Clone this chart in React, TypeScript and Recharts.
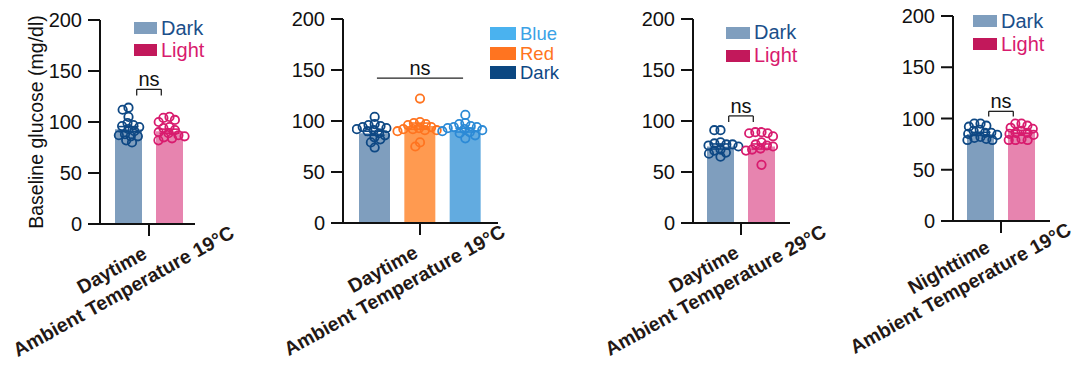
import React from "react";
import {
  ComposedChart,
  Bar,
  Cell,
  Scatter,
  XAxis,
  YAxis,
  ErrorBar,
  ReferenceLine,
  Legend,
} from "recharts";

const H = 367;
const yTicks = [0, 50, 100, 150, 200];

// daytime, 19°C
const aGroups = ["Dark", "Light"];
const aMeans = [93, 91];
const aSem = [2.5, 2];
const aDark = [114, 112, 105, 99, 97, 96, 95, 93, 91, 88, 87, 86, 86, 82, 80];
const aLight = [105, 104, 102, 100, 95, 94, 92, 90, 89, 87, 86, 85, 84, 82];
const aLabel = ["Daytime", "Ambient Temperature 19°C"];

// daytime, 19°C, three light colours
const bGroups = ["Dark", "Red", "Blue"];
const bMeans = [88, 95, 91];
const bSem = [2, 3, 1.8];
const bDark = [104, 97, 96, 95, 94, 93, 92, 91, 90, 88, 86, 84, 82, 79, 74];
const bRed = [122, 99, 98, 97, 96, 94, 93, 92, 92, 91, 91, 90, 79, 75];
const bBlue = [106, 98, 97, 95, 94, 94, 93, 92, 91, 90, 89, 88, 86, 83];
const bLabel = ["Daytime", "Ambient Temperature 19°C"];

// daytime, 29°C
const cGroups = ["Dark", "Light"];
const cMeans = [75, 75];
const cSem = [2.5, 2.5];
const cDark = [91, 91, 79, 78, 77, 77, 76, 75, 72, 71, 69, 68, 65];
const cLight = [89, 89, 88, 88, 85, 79, 77, 76, 75, 73, 72, 71, 57];
const cLabel = ["Daytime", "Ambient Temperature 29°C"];

// nighttime, 19°C
const dGroups = ["Dark", "Light"];
const dMeans = [85, 87];
const dSem = [1.5, 1.5];
const dDark = [95, 95, 93, 92, 89, 88, 86, 86, 85, 84, 82, 81, 80, 79, 79];
const dLight = [95, 95, 93, 91, 90, 88, 86, 86, 85, 84, 80, 79, 79, 79];
const dLabel = ["Nighttime", "Ambient Temperature 19°C"];

const COLORS: Record<string, { bar: string; dot: string }> = {
  Dark: { bar: "#7f9ebe", dot: "#0e4884" },
  Light: { bar: "#e784af", dot: "#d81b6e" },
  Red: { bar: "#ff9a50", dot: "#ff7420" },
  Blue: { bar: "#62abe0", dot: "#2c8ad6" },
};

const twoLegend = [
  { name: "Dark", swatch: "#7f9ebe", text: "#1b4f8a" },
  { name: "Light", swatch: "#c2185b", text: "#d81b6e" },
];
const threeLegend = [
  { name: "Blue", swatch: "#4ab2ef", text: "#3ba2e6" },
  { name: "Red", swatch: "#ff7420", text: "#ff7420" },
  { name: "Dark", swatch: "#0b4781", text: "#0e4884" },
];

const INK = "#111";

// simple beeswarm: horizontal pixel offsets so circles don't pile up
function swarm(values: number[], pxPerUnit: number, d: number): number[] {
  const order = values.map((_, i) => i).sort((a, b) => values[b] - values[a]);
  const placed: { x: number; y: number }[] = [];
  const out = new Array(values.length).fill(0);
  for (const i of order) {
    const y = values[i] * pxPerUnit;
    const cands = [0];
    for (const p of placed) {
      const dy = Math.abs(p.y - y);
      if (dy < d) {
        const w = Math.sqrt(d * d - dy * dy);
        cands.push(p.x - w, p.x + w);
      }
    }
    cands.sort((a, b) => Math.abs(a) - Math.abs(b));
    const x =
      cands.find((c) =>
        placed.every((p) => (p.x - c) ** 2 + (p.y - y) ** 2 >= d * d - 0.01)
      ) ?? 0;
    placed.push({ x, y });
    out[i] = x;
  }
  return out;
}

function TwoLineTick(props: any) {
  const { x, y, lines, shift } = props;
  return (
    <g transform={`translate(${x - 34 + shift},${y + 40}) rotate(-29)`}>
      {lines.map((t: string, i: number) => (
        <text
          key={i}
          x={0}
          y={i * 24}
          textAnchor="middle"
          fontSize={19.5}
          fontWeight="bold"
          fill="#231815"
        >
          {t}
        </text>
      ))}
    </g>
  );
}

type PanelProps = {
  groups: string[];
  means: number[];
  sems: number[];
  dots: number[][];
  label: string[];
  legend: { name: string; swatch: string; text: string }[];
  chartLeft: number;
  chartWidth: number;
  axisLeft: number;
  axisRight: number;
  plotTop: number;
  plotBottom: number;
  padL: number;
  padR: number;
  barSize: number;
  legendX: number;
  legendTop: number;
  legendFont: number;
  rowH: number;
  swatchW: number;
  swatchH: number;
  labelShift: number;
  ns: { from: number; to: number; y: number; leg: number };
  yLabel?: string;
};

const YW = 60;
const XH = 30;

function Panel(p: PanelProps) {
  const n = p.groups.length;
  const rows = p.groups.map((g, i) => ({ name: g, mean: p.means[i] }));
  const pxPerUnit = (p.plotBottom - p.plotTop) / 200;

  return (
    <div style={{ position: "absolute", left: p.chartLeft, top: 0 }}>
      <ComposedChart
        width={p.chartWidth}
        height={H}
        data={rows}
        margin={{
          top: p.plotTop,
          bottom: H - p.plotBottom - XH,
          left: p.axisLeft - p.chartLeft - YW,
          right: p.chartLeft + p.chartWidth - p.axisRight,
        }}
      >
        <XAxis
          xAxisId="num"
          dataKey="x"
          type="number"
          domain={[-0.5, n - 0.5]}
          allowDataOverflow
          ticks={[(n - 1) / 2]}
          interval={0}
          padding={{ left: p.padL, right: p.padR }}
          height={XH}
          tickSize={12}
          tickMargin={0}
          axisLine={{ stroke: INK, strokeWidth: 2 }}
          tickLine={{ stroke: INK, strokeWidth: 2 }}
          tick={(t: any) => (
            <TwoLineTick {...t} lines={p.label} shift={p.labelShift} />
          )}
        />
        <XAxis
          xAxisId="cat"
          dataKey="name"
          hide
          height={0}
          padding={{ left: p.padL, right: p.padR }}
        />
        <YAxis
          domain={[0, 200]}
          ticks={yTicks}
          allowDataOverflow
          width={YW}
          tickSize={12}
          tickMargin={6}
          tick={{ fontSize: 20, fill: INK }}
          axisLine={{ stroke: INK, strokeWidth: 2 }}
          tickLine={{ stroke: INK, strokeWidth: 2 }}
          label={
            p.yLabel
              ? {
                  content: () => (
                    <text
                      transform={`translate(43,${(p.plotTop + p.plotBottom) / 2}) rotate(-90)`}
                      textAnchor="middle"
                      fontSize={19.5}
                      fill={INK}
                    >
                      {p.yLabel}
                    </text>
                  ),
                }
              : undefined
          }
        />
        <Legend
          layout="vertical"
          align="center"
          verticalAlign="middle"
          wrapperStyle={{ left: p.legendX - p.chartLeft, top: p.legendTop }}
          content={() => (
            <div style={{ fontSize: p.legendFont }}>
              {p.legend.map((it) => (
                <div
                  key={it.name}
                  style={{ display: "flex", alignItems: "center", height: p.rowH }}
                >
                  <span
                    style={{
                      display: "block",
                      width: p.swatchW,
                      height: p.swatchH,
                      background: it.swatch,
                      marginRight: 4,
                    }}
                  />
                  <span
                    style={{
                      display: "block",
                      color: it.text,
                      height: p.rowH,
                      lineHeight: `${p.rowH}px`,
                    }}
                  >
                    {it.name}
                  </span>
                </div>
              ))}
            </div>
          )}
        />
        <Bar
          xAxisId="cat"
          dataKey="mean"
          barSize={p.barSize}
          isAnimationActive={false}
        >
          {p.groups.map((g) => (
            <Cell key={g} fill={COLORS[g].bar} />
          ))}
        </Bar>
        {p.groups.map((g, i) => (
          <Scatter
            key={`e-${g}`}
            xAxisId="num"
            data={[{ x: i, y: p.means[i], sem: p.sems[i] }]}
            dataKey="y"
            isAnimationActive={false}
            shape={() => <g />}
          >
            <ErrorBar
              dataKey="sem"
              direction="y"
              width={10}
              stroke={COLORS[g].dot}
              strokeWidth={1.6}
              isAnimationActive={false}
            />
          </Scatter>
        ))}
        {p.groups.map((g, i) => {
          const offs = swarm(p.dots[i], pxPerUnit, 6.2);
          const pts = p.dots[i].map((v, k) => ({ x: i, y: v, dx: offs[k] }));
          return (
            <Scatter
              key={`d-${g}`}
              xAxisId="num"
              data={pts}
              dataKey="y"
              isAnimationActive={false}
              shape={(s: any) => (
                <circle
                  cx={s.cx + s.payload.dx}
                  cy={s.cy}
                  r={4.2}
                  fill="none"
                  stroke={COLORS[g].dot}
                  strokeWidth={1.8}
                />
              )}
            />
          );
        })}
        <ReferenceLine
          xAxisId="num"
          segment={[
            { x: p.ns.from, y: p.ns.y },
            { x: p.ns.to, y: p.ns.y },
          ]}
          stroke="#222"
          strokeWidth={1.3}
          label={{ value: "ns", position: "top", offset: 3, fontSize: 20, fill: INK }}
        />
        {p.ns.leg > 0 && (
          <ReferenceLine
            xAxisId="num"
            segment={[
              { x: p.ns.from, y: p.ns.y },
              { x: p.ns.from, y: p.ns.y - p.ns.leg },
            ]}
            stroke="#222"
            strokeWidth={1.3}
          />
        )}
        {p.ns.leg > 0 && (
          <ReferenceLine
            xAxisId="num"
            segment={[
              { x: p.ns.to, y: p.ns.y },
              { x: p.ns.to, y: p.ns.y - p.ns.leg },
            ]}
            stroke="#222"
            strokeWidth={1.3}
          />
        )}
      </ComposedChart>
    </div>
  );
}

export default function App() {
  return (
    <div
      style={{
        position: "absolute",
        left: 0,
        top: 0,
        width: 1082,
        height: H,
        background: "#fff",
        fontFamily: "'Liberation Sans', Arial, sans-serif",
      }}
    >
      <Panel
        groups={aGroups}
        means={aMeans}
        sems={aSem}
        dots={[aDark, aLight]}
        label={aLabel}
        legend={twoLegend}
        chartLeft={0}
        chartWidth={260}
        axisLeft={100}
        axisRight={195}
        plotTop={20}
        plotBottom={224}
        padL={8}
        padR={5}
        barSize={27}
        legendX={134}
        legendTop={17}
        legendFont={20}
        rowH={22}
        swatchW={23}
        swatchH={12}
        labelShift={0}
        ns={{ from: 0.2, to: 0.8, y: 132, leg: 6 }}
        yLabel="Baseline glucose (mg/dl)"
      />
      <Panel
        groups={bGroups}
        means={bMeans}
        sems={bSem}
        dots={[bDark, bRed, bBlue]}
        label={bLabel}
        legend={threeLegend}
        chartLeft={262}
        chartWidth={318}
        axisLeft={343}
        axisRight={498}
        plotTop={19}
        plotBottom={223}
        padL={9}
        padR={10}
        barSize={31}
        legendX={490}
        legendTop={24}
        legendFont={18.5}
        rowH={19.5}
        swatchW={26}
        swatchH={13}
        labelShift={0}
        ns={{ from: 0.05, to: 1.95, y: 142, leg: 0 }}
      />
      <Panel
        groups={cGroups}
        means={cMeans}
        sems={cSem}
        dots={[cDark, cLight]}
        label={cLabel}
        legend={twoLegend}
        chartLeft={595}
        chartWidth={265}
        axisLeft={693}
        axisRight={790}
        plotTop={19}
        plotBottom={223}
        padL={7}
        padR={8}
        barSize={27}
        legendX={726}
        legendTop={21}
        legendFont={20}
        rowH={23}
        swatchW={24}
        swatchH={12}
        labelShift={0}
        ns={{ from: 0.2, to: 0.8, y: 105, leg: 6 }}
      />
      <Panel
        groups={dGroups}
        means={dMeans}
        sems={dSem}
        dots={[dDark, dLight]}
        label={dLabel}
        legend={twoLegend}
        chartLeft={835}
        chartWidth={247}
        axisLeft={953}
        axisRight={1050}
        plotTop={16}
        plotBottom={221}
        padL={7}
        padR={8}
        barSize={27}
        legendX={973}
        legendTop={9.5}
        legendFont={20}
        rowH={23}
        swatchW={24}
        swatchH={12}
        labelShift={-15}
        ns={{ from: 0.2, to: 0.8, y: 107, leg: 5 }}
      />
    </div>
  );
}
